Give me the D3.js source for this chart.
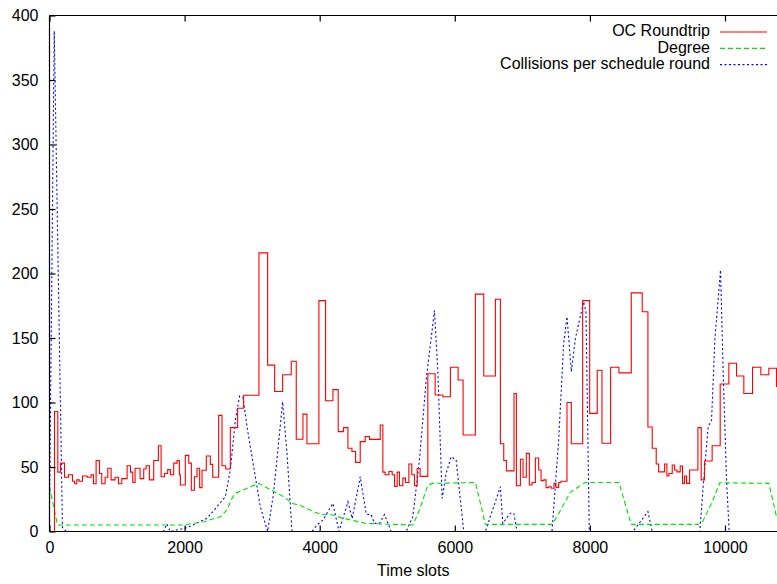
<!DOCTYPE html>
<html>
<head>
<meta charset="utf-8">
<script src="https://cdn.jsdelivr.net/npm/d3@7"></script>
<style>
  body { margin: 0; background: #fff; }
  text { font-family: 'Liberation Sans', Arial, sans-serif; font-size: 16px; fill: #000; }
</style>
</head>
<body>
<div id="chart"></div>
<script>
// OC roundtrip (step series): time slot where each step starts, and its value
const redT = [0, 74, 123, 163, 222, 281, 340, 370, 404, 439, 488, 557, 616, 651, 690, 740, 774, 823, 863, 912,
  971, 1021, 1070, 1109, 1149, 1198, 1232, 1267, 1341, 1395, 1430, 1479, 1543, 1612, 1652, 1701, 1750, 1790, 1839, 1888,
  1923, 1937, 2011, 2061, 2100, 2145, 2184, 2223, 2258, 2322, 2381, 2416, 2504, 2554, 2608, 2677, 2785, 2874, 3101, 3229,
  3333, 3451, 3579, 3653, 3752, 3811, 3988, 4087, 4196, 4274, 4353, 4418, 4477, 4531, 4600, 4674, 4738, 4896, 4935, 4969,
  5024, 5073, 5108, 5147, 5181, 5231, 5270, 5320, 5364, 5403, 5443, 5487, 5601, 5709, 5823, 5935, 6049, 6123, 6305, 6429,
  6601, 6675, 6725, 6764, 6877, 6912, 6971, 7010, 7059, 7104, 7144, 7193, 7242, 7277, 7316, 7351, 7390, 7429, 7469, 7498,
  7538, 7572, 7661, 7725, 7893, 7997, 8109, 8179, 8307, 8430, 8613, 8775, 8859, 8923, 8982, 9017, 9106, 9140, 9170, 9219,
  9254, 9288, 9337, 9372, 9402, 9431, 9476, 9599, 9648, 9697, 9810, 9929, 10057, 10171, 10279, 10408, 10531, 10649, 10763]
const redV = [0, 93, 46, 53, 42, 44, 39, 37, 40, 39, 43, 42, 44, 37, 55, 45, 37, 42, 49, 40,
  42, 37, 41, 41, 51, 46, 38, 49, 41, 48.5, 51, 40, 55, 66.5, 42.5, 45, 48, 44, 53, 55,
  44, 36, 59, 53, 32, 42.5, 49, 34, 47.5, 58.5, 52, 42, 90, 51, 48.5, 80.5, 95.5, 105.6, 216, 129,
  108.5, 121.5, 132, 71.5, 91, 68, 179, 101.4, 110, 77.4, 80.5, 64.5, 62, 53.6, 69.7, 73.6, 71.4, 82.6, 46, 44,
  46.5, 44, 35, 46, 35.5, 41.4, 38, 52.3, 44, 35.5, 48.8, 42.7, 122.3, 105.8, 104.5, 127.3, 117.4, 74.8, 184, 120.5,
  180, 68, 55, 47, 107, 35.5, 56, 42, 60.6, 36, 38, 57, 47.7, 39.4, 40, 34, 34.7, 33.5, 37.3, 34.2,
  38, 39, 100, 68, 179, 91.6, 125, 68.4, 127.3, 123, 185, 170.4, 81, 64.5, 52.3, 46.2, 52.3, 43, 45, 51.6,
  47.7, 46.2, 50.7, 37.3, 43, 37.3, 47.7, 80.5, 40, 54.7, 66.5, 114.3, 130.4, 120.5, 107, 127.3, 121.5, 126.6, 112]

// Degree
const greenT = [0, 118, 1963, 2288, 2529, 2628, 2702, 2751, 2924, 3096, 3269, 3465, 3590, 3761, 3909, 4008, 4196, 4344,
  4688, 5379, 5477, 5601, 5675, 6305, 6453, 7439, 7513, 7710, 7834, 7932, 8430, 8612, 9599, 9673, 9801, 9924, 10649, 10763]
const greenV = [35, 5, 5, 7.6, 11.5, 16.7, 25.7, 29.6, 33.5, 37.3, 32.5, 27, 22, 19.2, 15.4, 13.5, 12.8, 10.2,
  6.3, 5, 16.7, 36, 37.3, 38, 5.5, 5.5, 11.5, 30.4, 34.7, 38, 38, 5.5, 5.5, 8, 21.8, 37.8, 37.3, 11.5]

// Collisions per schedule round
const blueT = [0, 70, 192, 251, 1686, 1738, 1790, 2037, 2332, 2480, 2603, 2677, 2751, 2815, 2865, 2924, 2998, 3121, 3229,
  3317, 3391, 3451, 3516, 3590, 3885, 3959, 4048, 4196, 4285, 4418, 4481, 4600, 4688, 4762, 4811, 4885, 4959, 5058, 5280,
  5379, 5477, 5576, 5699, 5749, 5813, 5872, 5946, 6020, 6133, 6453, 6675, 6710, 6823, 6873, 6922, 7439, 7538, 7612, 7661,
  7725, 7784, 7908, 7942, 7991, 8637, 8859, 8923, 9628, 9677, 9751, 9801, 9850, 9934, 9973, 10023, 10062, 10763]
const blueV = [15, 388, 3, 0, 0, 5.8, 0, 3, 10.2, 19.2, 27, 47.7, 86.4, 105, 104, 81.2, 58, 19.2, 0,
  29.6, 68.4, 100.6, 60.5, 0, 0, 5, 8.9, 21.8, 0, 23, 10, 42.5, 13.5, 13, 6.3, 6.3, 13.2, 0, 0,
  11.5, 55.4, 117.4, 171.2, 124, 25.7, 45, 58, 55.4, 0, 0, 34.7, 6.3, 14.2, 14.2, 0, 0, 70.9, 145.8, 166.5,
  124, 149.4, 178.2, 170, 0, 0, 15.4, 0, 0, 34.7, 81.2, 86.4, 148.4, 202.7, 122.6, 40, 0, 0]

const xTicks = [0, 2000, 4000, 6000, 8000, 10000]
const yTicks = [0, 50, 100, 150, 200, 250, 300, 350, 400]
const legendNames = ['OC Roundtrip', 'Degree', 'Collisions per schedule round']

const width = 777
const height = 584
const margin = { top: 15.5, right: 0, bottom: 52.5, left: 49.5 }

const svg = d3
  .select('#chart')
  .append('svg')
  .attr('width', width)
  .attr('height', height)

const x = d3.scaleLinear()
  .domain([0, 10770])
  .range([margin.left, width - margin.right])

const y = d3.scaleLinear()
  .domain([0, 400])
  .range([height - margin.bottom, margin.top])

svg.append('clipPath').attr('id', 'plot-clip')
  .append('rect')
  .attr('x', margin.left)
  .attr('y', margin.top)
  .attr('width', width - margin.left)
  .attr('height', y(0) - margin.top)

const pairs = (ts, vs) => ts.map((t, i) => [t, vs[i]])

const plot = svg.append('g').attr('clip-path', 'url(#plot-clip)')

const series = [
  { name: legendNames[0], data: pairs(redT, redV), color: '#ff0000', dash: null, curve: d3.curveStepAfter },
  { name: legendNames[1], data: pairs(greenT, greenV), color: '#00e000', dash: '5,3', curve: d3.curveLinear },
  { name: legendNames[2], data: pairs(blueT, blueV), color: '#0000ff', dash: '2,2.5', curve: d3.curveLinear }
]

// blue first, red last so it sits on top
series.slice().reverse().forEach(s => {
  const line = d3.line()
    .x(d => x(d[0]))
    .y(d => y(d[1]))
    .curve(s.curve)
  plot.append('path')
    .datum(s.data)
    .attr('fill', 'none')
    .style('stroke', s.color)
    .attr('stroke-width', 1.1)
    .attr('stroke-dasharray', s.dash)
    .attr('d', line)
})

// border (right side falls outside the picture)
const border = svg.append('g').attr('stroke', '#000').attr('stroke-width', 1.2)
border.append('line')
  .attr('x1', margin.left).attr('x2', width)
  .attr('y1', y(0)).attr('y2', y(0))
border.append('line')
  .attr('x1', margin.left).attr('x2', width)
  .attr('y1', margin.top).attr('y2', margin.top)
border.append('line')
  .attr('x1', margin.left).attr('x2', margin.left)
  .attr('y1', margin.top).attr('y2', y(0))

// axes with inward ticks
const tickLen = 6

svg.append('g')
  .attr('class', 'axis')
  .attr('transform', 'translate(0,' + y(0) + ')')
  .call(d3.axisBottom(x).tickValues(xTicks).tickSize(-tickLen).tickPadding(10).tickFormat(d3.format('d')))
  .call(g => g.select('.domain').remove())

svg.append('g')
  .attr('class', 'axis')
  .attr('transform', 'translate(0,' + margin.top + ')')
  .call(d3.axisTop(x).tickValues(xTicks).tickSize(-tickLen).tickFormat(''))
  .call(g => g.select('.domain').remove())

svg.append('g')
  .attr('class', 'axis')
  .attr('transform', 'translate(' + margin.left + ',0)')
  .call(d3.axisLeft(y).tickValues(yTicks).tickSize(-tickLen).tickPadding(11))
  .call(g => g.select('.domain').remove())

svg.selectAll('.axis .tick line').attr('stroke', '#000').attr('stroke-width', 1.2)
svg.selectAll('.axis .tick text')
  .style('font-family', "'Liberation Sans', Arial, sans-serif")
  .style('font-size', '16px')
  .attr('fill', '#000')

// x axis title
svg.append('text')
  .attr('x', (margin.left + width) / 2)
  .attr('y', 572)
  .attr('text-anchor', 'middle')
  .attr('dominant-baseline', 'middle')
  .text('Time slots')

// legend
const legend = svg.append('g')
series.forEach((s, i) => {
  const ly = 32 + i * 16.3
  legend.append('text')
    .attr('x', 710)
    .attr('y', ly)
    .attr('text-anchor', 'end')
    .attr('dominant-baseline', 'middle')
    .text(s.name)
  legend.append('path')
    .attr('d', 'M720,' + ly + 'H767')
    .attr('fill', 'none')
    .style('stroke', s.color)
    .attr('stroke-width', 1.2)
    .attr('stroke-dasharray', s.dash)
})
</script>
</body>
</html>
